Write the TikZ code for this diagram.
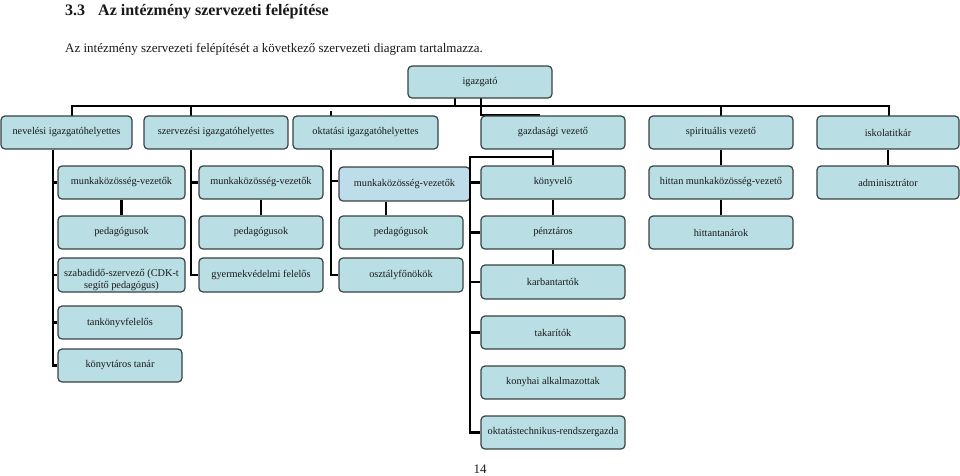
\documentclass[tikz,border=0pt]{standalone}
\usepackage{fontspec}
\setmainfont{Liberation Serif}
\definecolor{boxfill}{RGB}{185,222,228}
\definecolor{boxfillb}{RGB}{190,221,235}
\definecolor{boxline}{RGB}{55,66,68}
\definecolor{txt}{RGB}{25,25,25}
\tikzset{
  box/.style={draw=boxline, fill=boxfill, line width=1.2pt, rounded corners=4pt,
    inner sep=1pt, align=center, text=txt, font=\fontsize{10.3}{11.6}\selectfont},
  conn/.style={draw=black, line width=2.6pt, line join=miter},
}
\newcommand\bx[7][]{\node[box, minimum width={#5-#3}, minimum height={#6-#4}, #1] (#2) at ({(#3+#5)/2},{(#4+#6)/2}) {#7};}
\begin{document}
\begin{tikzpicture}[x=1pt,y=-1pt]
\useasboundingbox (0,0) rectangle (960,475);
% titles
\node[anchor=base west, inner sep=0, font=\fontsize{16}{19}\selectfont\bfseries, text=txt] (secnum) at (65,15) {3.3};
\node[anchor=base west, inner sep=0, font=\fontsize{16}{19}\selectfont\bfseries, text=txt] (sectitle) at (98,15) {Az intézmény szervezeti felépítése};
\node[anchor=base west, inner sep=0, font=\fontsize{13}{15}\selectfont, text=txt] (intro) at (65,52) {Az intézmény szervezeti felépítését a következő szervezeti diagram tartalmazza.};
\node[anchor=base, inner sep=0, font=\fontsize{13}{15}\selectfont, text=txt] (pagenum) at (480,473) {14};

% connector coordinates
\coordinate (t1) at (455,106);
\coordinate (busL) at (72,106);
\coordinate (busR) at (889,106);
\coordinate (d2) at (191,106);
\coordinate (d4) at (721,106);
\coordinate (s3) at (331,111);
\coordinate (g1) at (481,115);
\coordinate (g2) at (540,115);
\coordinate (nb) at (53,0);
\coordinate (c3) at (386,0);
\coordinate (gb) at (470,157);
\coordinate (m3t) at (331,181);

% connectors (drawn first)
\draw[conn] (455,98) -- (t1);
\draw[conn] (72,116) -- (busL) -- (busR) -- (889,116);
\draw[conn] (d2) -- (191,116);
\draw[conn] (d4) -- (721,116);
\draw[conn] (s3) -- (331,116);
\draw[conn] (481,98) -- (g1) -- (g2);

% boxes
\bx{igaz}{408}{66}{552}{98}{igazgató}
\bx{nev}{1}{116}{132}{149}{nevelési igazgatóhelyettes}
\bx{szerv}{144}{116}{288}{149}{szervezési igazgatóhelyettes}
\bx{okt}{293}{116}{438}{149}{oktatási igazgatóhelyettes}
\bx{gazd}{481}{116}{625}{149}{gazdasági vezető}
\bx{spir}{649}{116}{793}{149}{spirituális vezető}
\bx{isk}{817}{116}{959}{149}{iskolatitkár}

\bx{mA}{58}{166}{185}{199}{munkaközösség-vezetők}
\bx{mB}{199}{166}{323}{199}{munkaközösség-vezetők}
\bx[fill=boxfillb]{mC}{339}{167}{470}{201}{munkaközösség-vezetők}
\bx{konyv}{481}{166}{625}{199}{könyvelő}
\bx{hittan}{649}{166}{793}{199}{hittan munkaközösség-vezető}
\bx{adm}{817}{166}{959}{199}{adminisztrátor}

\bx{pA}{58}{216}{185}{249}{pedagógusok}
\bx{pB}{199}{216}{323}{249}{pedagógusok}
\bx{pC}{339}{216}{463}{249}{pedagógusok}
\bx{penz}{481}{216}{625}{249}{pénztáros}
\bx{htan}{649}{216}{793}{249}{hittantanárok}

\node[box, minimum width=127, minimum height=34] (szab) at (121.5,275) {};
\node[inner sep=0, align=center, text=txt, font=\fontsize{10.3}{11.8}\selectfont] (szabtxt) at (121.5,280) {szabadidő-szervező (CDK-t\\segítő pedagógus)};
\bx{gyer}{199}{258}{323}{292}{gyermekvédelmi felelős}
\bx{oszt}{339}{258}{463}{292}{osztályfőnökök}
\bx{karb}{481}{265}{625}{299}{karbantartók}

\bx{tank}{58}{306}{182}{339}{tankönyvfelelős}
\bx{takar}{481}{316}{625}{349}{takarítók}
\bx{konyvt}{58}{349}{182}{382}{könyvtáros tanár}
\bx{konyh}{481}{366}{625}{399}{konyhai alkalmazottak}
\bx{oktt}{481}{416}{625}{449}{oktatástechnikus-rendszergazda}

% branch connectors
\draw[conn] (nev.south -| nb) |- (konyvt.west);
\draw[conn] (mA.west -| nb) -- (mA.west);
\draw[conn] (szab.west -| nb) -- (szab.west);
\draw[conn] (tank.west -| nb) -- (tank.west);
\draw[conn] (mA.south) -- (pA.north);

\draw[conn] (szerv.south -| d2) |- (gyer.west);
\draw[conn] (mB.west -| d2) -- (mB.west);
\draw[conn] (mB.south) -- (pB.north);

\draw[conn] (okt.south -| s3) |- (oszt.west);
\draw[conn] (m3t) -- (m3t -| mC.west);
\draw[conn] (mC.south -| c3) -- (pC.north -| c3);

\draw[conn] (gazd.south) -- (konyv.north);
\draw[conn] (konyv.south) -- (penz.north);
\draw[conn] (penz.south) -- (karb.north);
\draw[conn] (gazd.south |- gb) -- (gb) |- (oktt.west);
\draw[conn] (konyv.west -| gb) -- (konyv.west);
\draw[conn] (penz.west -| gb) -- (penz.west);
\draw[conn] (karb.west -| gb) -- (karb.west);
\draw[conn] (takar.west -| gb) -- (takar.west);

\draw[conn] (spir.south) -- (hittan.north);
\draw[conn] (hittan.south) -- (htan.north);
\draw[conn] (isk.south) -- (adm.north);
\end{tikzpicture}
\end{document}
